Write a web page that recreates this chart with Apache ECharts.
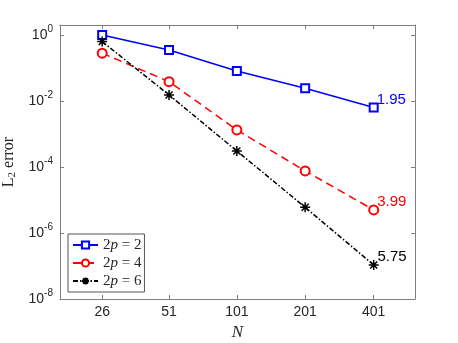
<!DOCTYPE html>
<html>
<head>
<meta charset="UTF-8">
<title>L2 error convergence</title>
<style>
    html, body { margin: 0; padding: 0; background: #fff; }
    #main { width: 458px; height: 343px; }
</style>
</head>
<body>
<div id="main"></div>
<script src="https://cdn.jsdelivr.net/npm/echarts@6/dist/echarts.min.js"></script>
<script>
// data
var N = [26, 51, 101, 201, 401];
var err2 = [1.0, 0.35, 0.081, 0.0243, 0.0063];
var err4 = [0.28, 0.0385, 0.00132, 7.6e-5, 5.0e-6];
var err6 = [0.63, 0.0152, 3.05e-4, 6.0e-6, 1.07e-7];
var rates = ['1.95', '3.99', '5.75'];
var names = ['2p = 2', '2p = 4', '2p = 6'];

var axisGray = '#7f7f7f';
var textDark = '#262626';
var asterisk = 'path://M5,0L5,10M0,5L10,5M1.5,1.5L8.5,8.5M1.5,8.5L8.5,1.5';

function makeData(vals, rate, color) {
    return vals.map(function (v, i) {
        var item = { value: [N[i], v] };
        if (i === vals.length - 1) {
            item.label = {
                show: true, formatter: rate, position: 'right', offset: [-7, -8],
                color: color, fontSize: 15, fontFamily: 'Liberation Sans'
            };
        }
        return item;
    });
}

function yLabel(v) {
    var e = Math.round(Math.log10(v));
    if (Math.abs(Math.log10(v) - e) > 1e-6) return '';
    return '{b|10}{s|' + e + '}';
}

var myChart = echarts.init(document.getElementById('main'));

var option = {
    animation: false,
    grid: { left: 60, right: 43, top: 25, bottom: 44, outerBoundsMode: 'none', containLabel: false },
    legend: {
        data: names,
        orient: 'vertical',
        left: 68, top: 234,
        padding: [2, 3, 2, 4],
        itemGap: 0,
        itemWidth: 25, itemHeight: 9,
        backgroundColor: '#fff',
        borderColor: '#555', borderWidth: 1, borderRadius: 0,
        formatter: function (name) {
            return '{n|2}{i|p}{n| = ' + name.slice(-1) + '}';
        },
        textStyle: {
            lineHeight: 18,
            rich: {
                n: { fontFamily: 'Liberation Serif', fontSize: 15, color: textDark },
                i: { fontFamily: 'Liberation Serif', fontStyle: 'italic', fontSize: 15, color: textDark }
            }
        }
    },
    xAxis: [{
        type: 'log', min: 17, max: 608,
        name: 'N', nameLocation: 'middle', nameGap: 23,
        nameTextStyle: { fontFamily: 'Liberation Serif', fontStyle: 'italic', fontSize: 17, color: textDark },
        axisLine: { lineStyle: { color: axisGray } },
        axisTick: { inside: true, length: 4, customValues: N, lineStyle: { color: axisGray } },
        axisLabel: { customValues: N, fontSize: 14, fontFamily: 'Liberation Sans', color: textDark, margin: 6 },
        splitLine: { show: false }
    }, {
        type: 'log', min: 17, max: 608, position: 'top',
        axisLine: { lineStyle: { color: axisGray } },
        axisTick: { inside: true, length: 4, customValues: N, lineStyle: { color: axisGray } },
        axisLabel: { show: false },
        splitLine: { show: false }
    }],
    yAxis: [{
        type: 'log', min: 1e-8, max: 2, interval: 2,
        name: '{a|L}{b|2}{a| error}', nameLocation: 'middle', nameGap: 42,
        nameTextStyle: {
            rich: {
                a: { fontFamily: 'Liberation Serif', fontSize: 16, color: textDark },
                b: { fontFamily: 'Liberation Serif', fontSize: 11, color: textDark, padding: [6, 0, 0, 0] }
            }
        },
        axisLine: { show: true, lineStyle: { color: axisGray } },
        axisTick: { inside: true, length: 4, lineStyle: { color: axisGray } },
        axisLabel: {
            formatter: yLabel, margin: 7,
            rich: {
                b: { fontSize: 14, fontFamily: 'Liberation Sans', color: textDark },
                s: { fontSize: 10, fontFamily: 'Liberation Sans', color: textDark, padding: [0, 0, 12, 0] }
            }
        },
        splitLine: { show: false }
    }, {
        type: 'log', min: 1e-8, max: 2, interval: 2, position: 'right',
        axisLine: { show: true, lineStyle: { color: axisGray } },
        axisTick: { inside: true, length: 4, lineStyle: { color: axisGray } },
        axisLabel: { show: false },
        splitLine: { show: false }
    }],
    series: [{
        name: names[0], type: 'line',
        data: makeData(err2, rates[0], '#0000ff'),
        symbol: 'emptyRect', symbolSize: 8,
        itemStyle: { color: '#0000ff', borderWidth: 1.2 },
        lineStyle: { color: '#0000ff', width: 1.5 }
    }, {
        name: names[1], type: 'line',
        data: makeData(err4, rates[1], '#ff0000'),
        symbol: 'emptyCircle', symbolSize: 9,
        itemStyle: { color: '#ff0000', borderWidth: 1.2 },
        lineStyle: { color: '#ff0000', width: 1.5, type: [8, 5] }
    }, {
        name: names[2], type: 'line',
        data: makeData(err6, rates[2], '#000000'),
        symbol: asterisk, symbolSize: 10,
        itemStyle: { color: '#000', borderColor: '#000', borderWidth: 1.5 },
        lineStyle: { color: '#000', width: 1.5, type: [5, 2, 1.5, 2] }
    }]
};

myChart.setOption(option);
</script>
</body>
</html>
